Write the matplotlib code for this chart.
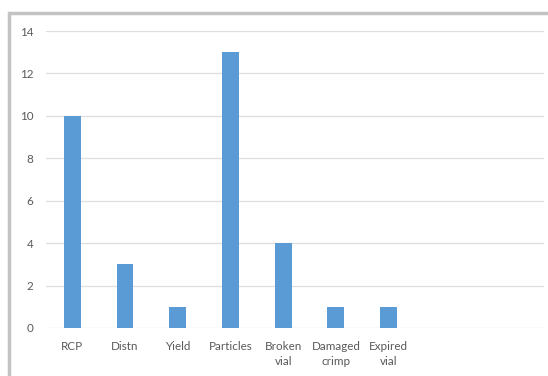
import matplotlib
matplotlib.use("Agg")
import matplotlib.pyplot as plt
from matplotlib.patches import Rectangle
import numpy as np

categories = ["RCP", "Distn", "Yield", "Particles", "Broken\nvial", "Damaged\ncrimp", "Expired\nvial"]
counts = [10, 3, 1, 13, 4, 1, 1]
yticks = [0, 2, 4, 6, 8, 10, 12, 14]

W, H = 548, 376
fig = plt.figure(figsize=(W / 100, H / 100), dpi=100)
plt.rcParams["font.family"] = ["Lato", "DejaVu Sans"]

# grey chart border (cropped screenshot, only top and left edges visible)
fig.patches.append(Rectangle((9 / W, -0.1), 1.2, (H - 13) / H + 0.1, transform=fig.transFigure,
                             fill=False, edgecolor="#c3c3c3", linewidth=2.5))

ax = fig.add_axes([46 / W, (H - 328) / H, 498 / W, (328 - 31) / H])
x = np.arange(len(categories))
ax.bar(x, counts, width=0.32, color="#5b9bd5", zorder=3)
ax.set_xlim(-0.5, -0.5 + 498 / 52.7)
ax.set_ylim(0, 14)
ax.set_yticks(yticks)
ax.set_xticks(x)
ax.set_xticklabels(categories, fontsize=8.4, color="#595959", linespacing=1.45)
ax.tick_params(axis="x", length=0, pad=9)
ax.tick_params(axis="y", length=0, pad=9, labelsize=8.4, labelcolor="#595959")
ax.grid(axis="y", color="#dedede", linewidth=0.9, zorder=0)
for s in ax.spines.values():
    s.set_visible(False)

plt.savefig("out.png", dpi=100)
